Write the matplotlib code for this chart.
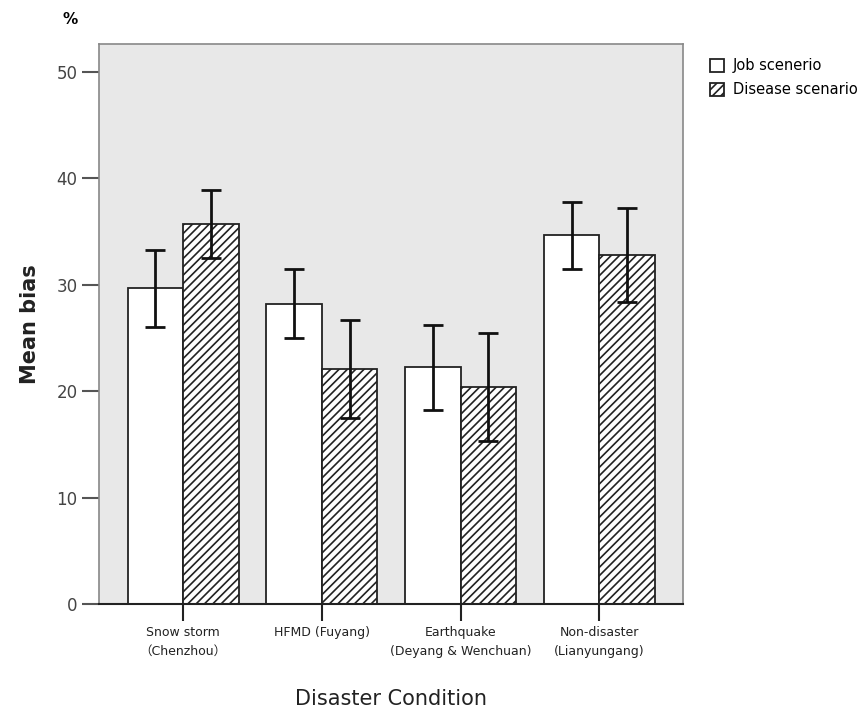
import numpy as np
import matplotlib.pyplot as plt

conditions = ["Snow storm\n\uff08Chenzhou\uff09", "HFMD (Fuyang)",
              "Earthquake\n(Deyang & Wenchuan)", "Non-disaster\n(Lianyungang)"]
job_mean = [29.7, 28.2, 22.3, 34.7]
job_low = [26.0, 25.0, 18.2, 31.5]
job_high = [33.3, 31.5, 26.2, 37.8]
dis_mean = [35.7, 22.1, 20.4, 32.8]
dis_low = [32.5, 17.5, 15.3, 28.4]
dis_high = [38.9, 26.7, 25.5, 37.2]

plt.rcParams['hatch.linewidth'] = 1.2
plt.rcParams['font.family'] = ['DejaVu Sans', 'Noto Sans CJK SC']

fig = plt.figure(figsize=(8.65, 7.11), dpi=100)
ax = fig.add_axes([0.1145, 0.1505, 0.6755, 0.7875])
ax.set_facecolor('#e8e8e8')

x = np.arange(len(conditions))
w = 0.4
job_mean = np.array(job_mean)
dis_mean = np.array(dis_mean)
job_err = [job_mean - np.array(job_low), np.array(job_high) - job_mean]
dis_err = [dis_mean - np.array(dis_low), np.array(dis_high) - dis_mean]

ax.bar(x - w / 2, job_mean, w, color='white', edgecolor='#222222', linewidth=1.3,
       label='Job scenerio', zorder=2)
ax.bar(x + w / 2, dis_mean, w, color='white', edgecolor='#222222', linewidth=1.3,
       hatch='////', label='Disease scenario', zorder=2)
ax.errorbar(x - w / 2, job_mean, yerr=job_err, fmt='none', ecolor='#111111',
            elinewidth=2, capsize=7, capthick=2, zorder=3)
ax.errorbar(x + w / 2, dis_mean, yerr=dis_err, fmt='none', ecolor='#111111',
            elinewidth=2, capsize=7, capthick=2, zorder=3)

ax.set_xlim(-0.606, 3.606)
ax.set_ylim(0, 52.6)
ax.set_yticks([0, 10, 20, 30, 40, 50])
ax.set_xticks(x)
ax.set_xticklabels(conditions, fontsize=9, color='#222222', linespacing=1.6)
ax.tick_params(axis='y', length=12, width=1.5, labelsize=12, colors='#555555',
               labelcolor='#444444')
ax.tick_params(axis='x', length=12, width=1.5, colors='#222222', pad=4)

for s in ['top', 'right', 'left']:
    ax.spines[s].set_color('#888888')
    ax.spines[s].set_linewidth(1.2)
ax.spines['bottom'].set_color('#222222')
ax.spines['bottom'].set_linewidth(1.5)

ax.set_ylabel('Mean bias', fontsize=15, fontweight='bold', color='#222222', labelpad=12)
ax.set_xlabel('Disaster Condition', fontsize=15, color='#222222', labelpad=22)
fig.text(0.081, 0.972, '%', fontsize=11, fontweight='bold', ha='center', va='center')

leg = ax.legend(loc='upper left', bbox_to_anchor=(1.035, 0.985), frameon=False,
                fontsize=10.5, handlelength=1.0, handleheight=1.0, handletextpad=0.6,
                borderaxespad=0.0, labelspacing=0.6)

fig.savefig('out.png', dpi=100)
